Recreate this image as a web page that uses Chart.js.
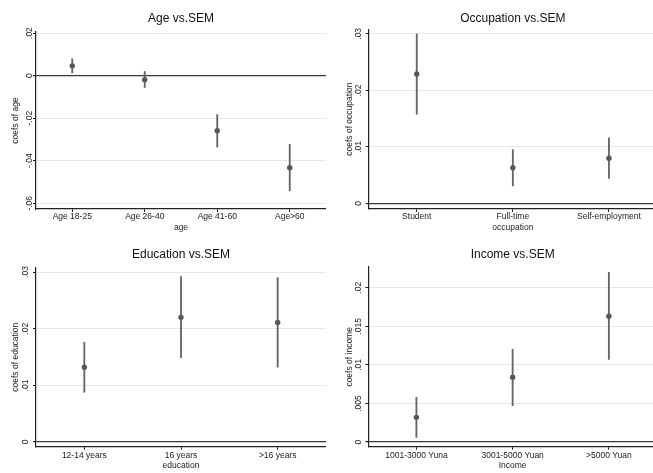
<!DOCTYPE html>
<html>
<head>
<meta charset="utf-8">
<title>Coefficients vs. SEM</title>
<script src="https://cdn.jsdelivr.net/npm/chart.js@4.4.1/dist/chart.umd.min.js"></script>
<style>
  html, body { margin: 0; padding: 0; background: #fff; overflow: hidden; }
  canvas { position: absolute; }
</style>
</head>
<body>
<canvas id="ageChart" width="326" height="236" style="left:0;top:0"></canvas>
<canvas id="occupationChart" width="331" height="236" style="left:326px;top:0"></canvas>
<canvas id="educationChart" width="326" height="237" style="left:0;top:236px"></canvas>
<canvas id="incomeChart" width="331" height="237" style="left:326px;top:236px"></canvas>
<script>
// Age
const ageLabels = ['Age 18-25', 'Age 26-40', 'Age 41-60', 'Age>60'];
const ageCoef = [0.0046, -0.0019, -0.0259, -0.0433];
const ageLow = [0.0013, -0.0056, -0.0336, -0.0542];
const ageHigh = [0.0079, 0.0019, -0.0183, -0.0323];
const ageTicks = [-0.06, -0.04, -0.02, 0, 0.02];
const ageTickLabels = ['-.06', '-.04', '-.02', '0', '.02'];

// Occupation
const occLabels = ['Student', 'Full-time', 'Self-employment'];
const occCoef = [0.0229, 0.0063, 0.0080];
const occLow = [0.0158, 0.0031, 0.0044];
const occHigh = [0.0300, 0.0095, 0.0116];
const occTicks = [0, 0.01, 0.02, 0.03];
const occTickLabels = ['0', '.01', '.02', '.03'];

// Education
const eduLabels = ['12-14 years', '16 years', '>16 years'];
const eduCoef = [0.0132, 0.0220, 0.0211];
const eduLow = [0.0088, 0.0149, 0.0132];
const eduHigh = [0.0176, 0.0292, 0.0290];
const eduTicks = [0, 0.01, 0.02, 0.03];
const eduTickLabels = ['0', '.01', '.02', '.03'];

// Income
const incLabels = ['1001-3000 Yuna', '3001-5000 Yuan', '>5000 Yuan'];
const incCoef = [0.0032, 0.0084, 0.0163];
const incLow = [0.0006, 0.0047, 0.0107];
const incHigh = [0.0058, 0.0120, 0.0220];
const incTicks = [0, 0.005, 0.01, 0.015, 0.02];
const incTickLabels = ['0', '.005', '.01', '.015', '.02'];

Chart.defaults.font.family = '"Liberation Sans", Arial, sans-serif';
Chart.defaults.color = '#222';

function drawPanel(id, cfg) {
    const ctx = document.getElementById(id).getContext('2d');
    const smallFont = { size: 8.5 };

    new Chart(ctx, {
        type: 'bar',
        data: {
            labels: cfg.labels,
            datasets: [
                {
                    // point estimates, on top
                    type: 'line',
                    data: cfg.coef,
                    showLine: false,
                    pointRadius: 2.7,
                    pointBackgroundColor: '#575757',
                    pointBorderWidth: 0
                },
                {
                    // confidence intervals as thin floating bars
                    type: 'bar',
                    data: cfg.low.map((v, i) => [v, cfg.high[i]]),
                    backgroundColor: '#666',
                    borderWidth: 0,
                    barThickness: 1.2
                }
            ]
        },
        options: {
            responsive: false,
            animation: false,
            devicePixelRatio: 1,
            layout: { padding: 0, autoPadding: false },
            plugins: {
                legend: { display: false },
                tooltip: { enabled: false },
                title: {
                    display: true,
                    text: cfg.title,
                    fullSize: false,
                    color: '#111',
                    font: { size: 12, weight: 'normal' },
                    padding: { top: 11.8, bottom: cfg.titleGap }
                }
            },
            scales: {
                x: {
                    offset: true,
                    grid: { offset: false, drawOnChartArea: false, tickLength: 3, tickColor: '#222' },
                    border: { display: true, color: '#222', width: 1.2 },
                    ticks: { font: smallFont, padding: cfg.xPad, autoSkip: false, maxRotation: 0 },
                    title: { display: true, text: cfg.xTitle, font: smallFont, padding: { top: 0, bottom: cfg.xTitlePad } },
                    afterFit: (scale) => { scale.height = cfg.xHeight; }
                },
                y: {
                    min: cfg.min,
                    max: cfg.max,
                    afterBuildTicks: (scale) => { scale.ticks = cfg.ticks.map(v => ({ value: v })); },
                    ticks: {
                        font: smallFont,
                        callback: (value, index) => cfg.tickLabels[index],
                        minRotation: 90,
                        maxRotation: 90,
                        crossAlign: 'center',
                        padding: cfg.yPad
                    },
                    grid: {
                        color: (c) => (c.tick && c.tick.value === 0) ? '#3a3a3a' : '#e8e8e8',
                        lineWidth: (c) => (c.tick && c.tick.value === 0) ? 1.2 : 1,
                        tickColor: '#222',
                        tickLength: 3
                    },
                    border: { display: true, color: '#222', width: 1.2 },
                    title: { display: true, text: cfg.yTitle, font: smallFont, padding: { top: cfg.yTitlePad, bottom: 0 } },
                    afterFit: (scale) => { scale.width = cfg.yWidth; }
                }
            }
        }
    });
}

drawPanel('ageChart', {
    title: 'Age vs.SEM', labels: ageLabels, coef: ageCoef, low: ageLow, high: ageHigh,
    ticks: ageTicks, tickLabels: ageTickLabels, min: -0.0627, max: 0.0205,
    xTitle: 'age', yTitle: 'coefs of age',
    titleGap: 5.8, xHeight: 27, xPad: 0, xTitlePad: 2.9, yWidth: 36, yPad: -3.5, yTitlePad: 10.9
});

drawPanel('occupationChart', {
    title: 'Occupation vs.SEM', labels: occLabels, coef: occCoef, low: occLow, high: occHigh,
    ticks: occTicks, tickLabels: occTickLabels, min: -0.001, max: 0.0308,
    xTitle: 'occupation', yTitle: 'coefs of occupation',
    titleGap: 3.1, xHeight: 27, xPad: 0, xTitlePad: 2.9, yWidth: 42.7, yPad: 1.5, yTitlePad: 18.9
});

drawPanel('educationChart', {
    title: 'Education vs.SEM', labels: eduLabels, coef: eduCoef, low: eduLow, high: eduHigh,
    ticks: eduTicks, tickLabels: eduTickLabels, min: -0.00083, max: 0.03076,
    xTitle: 'education', yTitle: 'coefs of education',
    titleGap: 5.5, xHeight: 26.3, xPad: 1.2, xTitlePad: 1.9, yWidth: 36, yPad: 1.8, yTitlePad: 10.9
});

drawPanel('incomeChart', {
    title: 'Income vs.SEM', labels: incLabels, coef: incCoef, low: incLow, high: incHigh,
    ticks: incTicks, tickLabels: incTickLabels, min: -0.0006, max: 0.02268,
    xTitle: 'Income', yTitle: 'coefs of income',
    titleGap: 4.8, xHeight: 26.3, xPad: 1.2, xTitlePad: 1.9, yWidth: 42.3, yPad: -1.25, yTitlePad: 18.9
});
</script>
</body>
</html>
